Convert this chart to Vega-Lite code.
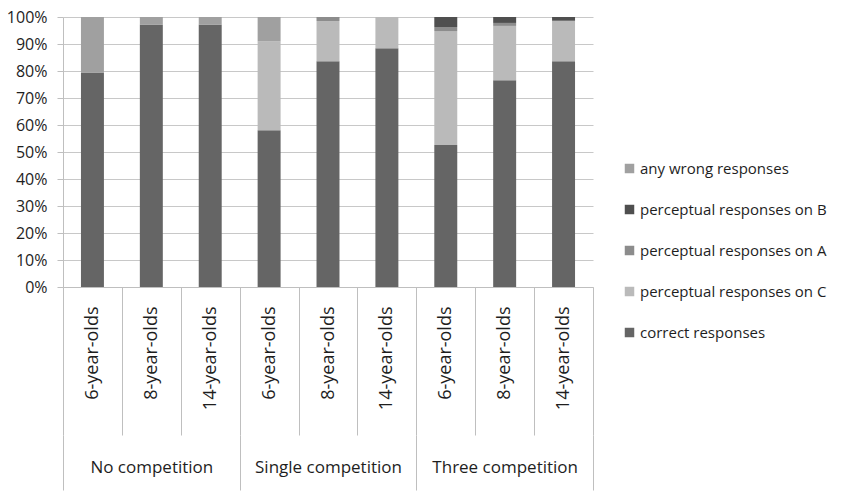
{
  "$schema": "https://vega.github.io/schema/vega-lite/v6.json",
  "width": 530,
  "height": 270,
  "autosize": "none",
  "padding": {"left": 63, "top": 17, "right": 248, "bottom": 206},
  "background": "white",
  "config": {"view": {"stroke": null}, "font": "Open Sans"},
  "data": {
    "values": [
      {"group": "No competition", "age": "6-year-olds", "series": "correct responses", "value": 79.4},
      {"group": "No competition", "age": "6-year-olds", "series": "any wrong responses", "value": 20.6},
      {"group": "No competition", "age": "8-year-olds", "series": "correct responses", "value": 97.1},
      {"group": "No competition", "age": "8-year-olds", "series": "any wrong responses", "value": 2.9},
      {"group": "No competition", "age": "14-year-olds", "series": "correct responses", "value": 97.1},
      {"group": "No competition", "age": "14-year-olds", "series": "any wrong responses", "value": 2.9},
      {"group": "Single competition", "age": "6-year-olds", "series": "correct responses", "value": 58.1},
      {"group": "Single competition", "age": "6-year-olds", "series": "perceptual responses on C", "value": 32.9},
      {"group": "Single competition", "age": "6-year-olds", "series": "any wrong responses", "value": 9.0},
      {"group": "Single competition", "age": "8-year-olds", "series": "correct responses", "value": 83.6},
      {"group": "Single competition", "age": "8-year-olds", "series": "perceptual responses on C", "value": 14.9},
      {"group": "Single competition", "age": "8-year-olds", "series": "perceptual responses on A", "value": 1.5},
      {"group": "Single competition", "age": "14-year-olds", "series": "correct responses", "value": 88.4},
      {"group": "Single competition", "age": "14-year-olds", "series": "perceptual responses on C", "value": 11.6},
      {"group": "Three competition", "age": "6-year-olds", "series": "correct responses", "value": 52.6},
      {"group": "Three competition", "age": "6-year-olds", "series": "perceptual responses on C", "value": 42.2},
      {"group": "Three competition", "age": "6-year-olds", "series": "perceptual responses on A", "value": 1.5},
      {"group": "Three competition", "age": "6-year-olds", "series": "perceptual responses on B", "value": 3.7},
      {"group": "Three competition", "age": "8-year-olds", "series": "correct responses", "value": 76.6},
      {"group": "Three competition", "age": "8-year-olds", "series": "perceptual responses on C", "value": 20.1},
      {"group": "Three competition", "age": "8-year-olds", "series": "perceptual responses on A", "value": 1.1},
      {"group": "Three competition", "age": "8-year-olds", "series": "perceptual responses on B", "value": 2.2},
      {"group": "Three competition", "age": "14-year-olds", "series": "correct responses", "value": 83.6},
      {"group": "Three competition", "age": "14-year-olds", "series": "perceptual responses on C", "value": 15.0},
      {"group": "Three competition", "age": "14-year-olds", "series": "perceptual responses on B", "value": 1.4}
    ]
  },
  "transform": [
    {"calculate": "indexof(['correct responses','perceptual responses on C','perceptual responses on A','perceptual responses on B','any wrong responses'], datum.series)", "as": "stackorder"},
    {"calculate": "datum.group + '|' + datum.age", "as": "cell"}
  ],
  "layer": [
    {
      "mark": {"type": "bar", "width": {"band": 0.39}},
      "encoding": {
        "x": {
          "field": "cell", "type": "nominal", "sort": null,
          "scale": {"paddingInner": 0, "paddingOuter": 0},
          "axis": {
            "title": null,
            "labelExpr": "split(datum.label, '|')[1]",
            "labelAngle": -90, "labelAlign": "right", "labelBaseline": "middle",
            "labelFontSize": 18, "labelColor": "#1e1e1e", "labelPadding": -129,
            "labelOverlap": false,
            "tickBand": "extent", "tickSize": 148, "tickColor": "#bfbfbf",
            "domainColor": "#bfbfbf", "grid": false
          }
        },
        "y": {
          "field": "value", "type": "quantitative", "stack": "normalize",
          "scale": {"domain": [0, 1]},
          "axis": {
            "title": null,
            "values": [0, 0.1, 0.2, 0.3, 0.4, 0.5, 0.6, 0.7, 0.8, 0.9, 1],
            "format": ".0%",
            "labelFontSize": 16, "labelColor": "#1e1e1e", "labelPadding": 10,
            "tickSize": 6, "tickColor": "#bfbfbf", "domainColor": "#bfbfbf",
            "gridColor": "#c8c8c8"
          }
        },
        "color": {
          "field": "series", "type": "nominal",
          "scale": {
            "domain": ["any wrong responses", "perceptual responses on B", "perceptual responses on A", "perceptual responses on C", "correct responses"],
            "range": ["#a0a0a0", "#4f4f4f", "#8c8c8c", "#bababa", "#656565"]
          },
          "legend": {
            "title": null, "orient": "none", "legendX": 559, "legendY": 144,
            "padding": 0, "symbolType": "square", "symbolSize": 90,
            "symbolStrokeWidth": 0, "labelFontSize": 15, "labelColor": "#1e1e1e",
            "labelOffset": 3, "rowPadding": 25, "labelLimit": 400
          }
        },
        "order": {"field": "stackorder", "type": "quantitative"}
      }
    },
    {
      "mark": {"type": "point", "opacity": 0},
      "encoding": {
        "x": {
          "field": "group", "type": "nominal", "sort": null,
          "scale": {"paddingInner": 0, "paddingOuter": 0},
          "axis": {
            "orient": "bottom", "title": null, "offset": 148, "domain": false,
            "tickBand": "extent", "tickSize": 55, "tickColor": "#bfbfbf",
            "labelPadding": -31, "labelFontSize": 17, "labelAngle": 0,
            "labelBaseline": "top", "labelColor": "#1e1e1e", "grid": false
          }
        }
      }
    }
  ],
  "resolve": {"scale": {"x": "independent"}, "axis": {"x": "independent"}}
}
